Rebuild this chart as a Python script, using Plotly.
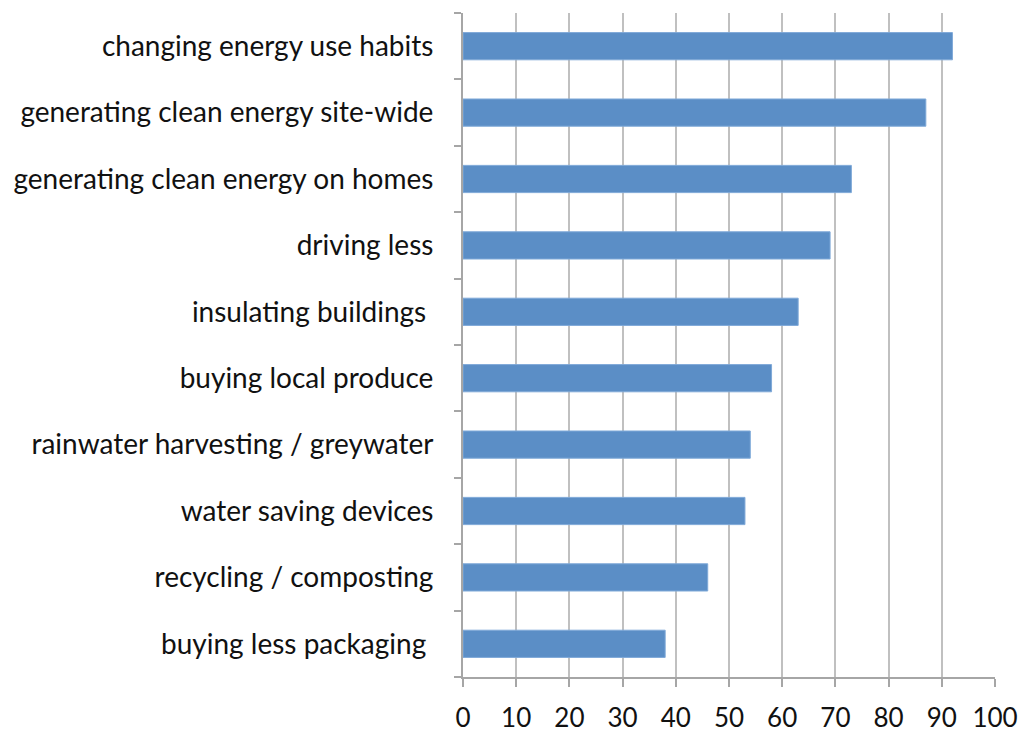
import plotly.graph_objects as go

categories = [
    "changing energy use habits",
    "generating clean energy site-wide",
    "generating clean energy on homes",
    "driving less",
    "insulating buildings ",
    "buying local produce",
    "rainwater harvesting / greywater",
    "water saving devices",
    "recycling / composting",
    "buying less packaging ",
]
values = [92, 87, 73, 69, 63, 58, 54, 53, 46, 38]
x_ticks = [0, 10, 20, 30, 40, 50, 60, 70, 80, 90, 100]

fig = go.Figure(
    go.Bar(
        y=categories,
        x=values,
        orientation="h",
        marker=dict(color="#5B8EC6", line=dict(color="#7FA9D8", width=1)),
        width=0.41,
    )
)

font = "Lato, 'Open Sans', sans-serif"
fig.update_layout(
    width=1021,
    height=734,
    margin=dict(l=463, r=26, t=13, b=57),
    plot_bgcolor="white",
    paper_bgcolor="white",
    showlegend=False,
    font=dict(family=font, color="#111111", size=28),
)
fig.update_xaxes(
    range=[0, 100],
    tickvals=x_ticks,
    ticktext=[str(v) for v in x_ticks],
    showgrid=True,
    gridcolor="#C0C0C0",
    gridwidth=2,
    showline=True,
    linecolor="#A6A6A6",
    linewidth=2,
    ticks="outside",
    ticklen=8,
    tickwidth=2,
    tickcolor="#A6A6A6",
    tickfont=dict(size=26),
    ticklabelstandoff=9,
    zeroline=False,
    automargin=False,
)
fig.update_yaxes(
    categoryorder="array",
    categoryarray=categories[::-1],
    showline=True,
    linecolor="#A6A6A6",
    linewidth=2,
    ticks="outside",
    tickson="boundaries",
    ticklen=7,
    tickwidth=1.5,
    tickcolor="#A6A6A6",
    tickfont=dict(size=28),
    showgrid=False,
    ticklabelstandoff=22,
    automargin=False,
)

fig.write_html("out.html")
